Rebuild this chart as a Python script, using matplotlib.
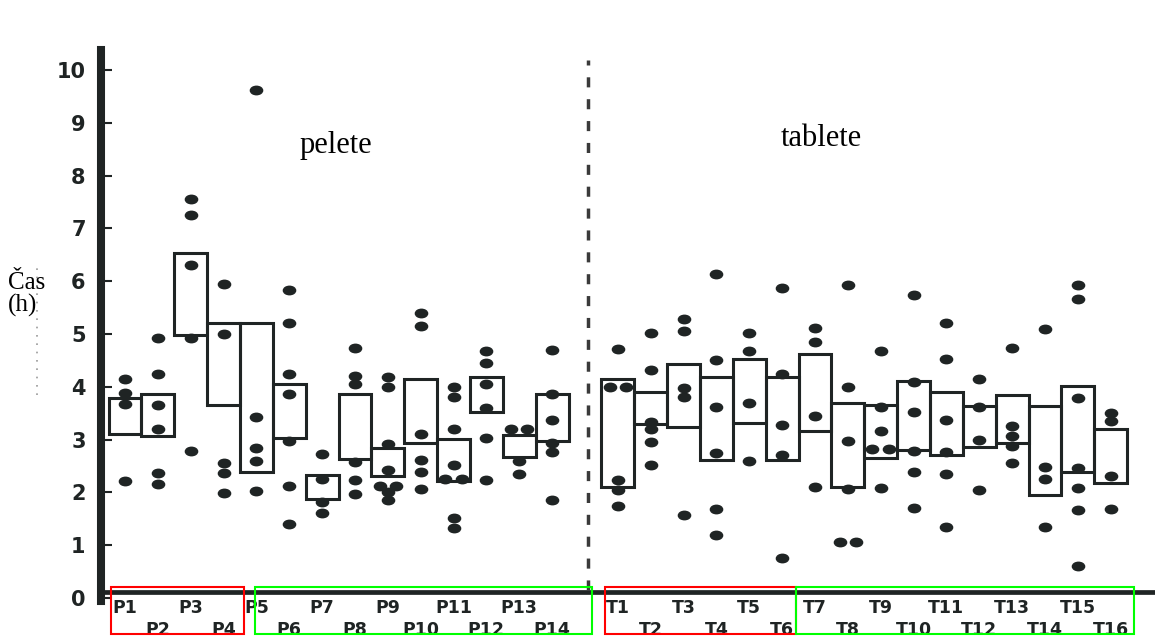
import numpy as np
import matplotlib.pyplot as plt
import matplotlib.transforms as mtransforms
from matplotlib.path import Path
from matplotlib.patches import Rectangle
from matplotlib.lines import Line2D

# --- data (hours) ---
pellet_names = ['P%d' % i for i in range(1, 15)]
tablet_names = ['T%d' % i for i in range(1, 17)]

pellet_low = [3.11, 3.06, 4.98, 3.66, 2.38, 3.03, 1.88, 2.64, 2.32, 2.94, 2.21, 3.53, 2.67, 2.98]
pellet_high = [3.79, 3.87, 6.53, 5.20, 5.20, 4.05, 2.33, 3.87, 2.84, 4.14, 3.01, 4.18, 3.09, 3.86]

tablet_low = [2.11, 3.30, 3.23, 2.62, 3.32, 2.62, 3.17, 2.11, 2.65, 2.81, 2.71, 2.86, 2.93, 1.96, 2.38, 2.18]
tablet_high = [4.15, 3.91, 4.44, 4.19, 4.52, 4.19, 4.63, 3.69, 3.66, 4.11, 3.91, 3.63, 3.85, 3.64, 4.02, 3.21]

pellet_points = [
    [4.15, 3.89, 3.68, 2.21],
    [4.93, 4.24, 3.66, 3.20, 2.36, 2.16],
    [7.55, 7.26, 6.30, 4.93, 2.79],
    [5.95, 5.00, 2.55, 2.36, 1.99],
    [9.62, 3.43, 2.85, 2.59, 2.02],
    [5.84, 5.20, 4.25, 3.86, 2.98, 2.12, 1.40],
    [2.73, 2.26, 1.82, 1.61],
    [4.74, 4.21, 4.05, 2.57, 2.24, 1.97],
    [4.18, 3.99, 2.91, 2.43, 2.13, 2.13, 2.01, 1.85],
    [5.40, 5.16, 3.11, 2.62, 2.38, 2.07],
    [4.00, 3.80, 3.20, 2.51, 2.26, 2.26, 1.52, 1.33],
    [4.67, 4.46, 4.06, 3.59, 3.03, 2.23],
    [3.20, 3.20, 2.59, 2.35],
    [4.70, 3.87, 3.37, 2.93, 2.76, 1.86],
]

tablet_points = [
    [4.72, 4.00, 4.00, 2.23, 2.05, 1.74],
    [5.02, 4.32, 3.33, 3.20, 2.95, 2.51],
    [5.28, 5.06, 3.98, 3.80, 1.58],
    [6.14, 4.50, 3.61, 2.74, 1.69, 1.19],
    [5.02, 4.67, 3.70, 2.59],
    [5.87, 4.25, 3.28, 2.70, 0.75],
    [5.11, 4.85, 3.45, 2.10],
    [5.92, 4.00, 2.97, 2.07, 1.06, 1.06],
    [4.67, 3.61, 3.17, 2.82, 2.82, 2.09],
    [5.73, 4.09, 3.53, 2.79, 2.38, 1.71],
    [5.21, 4.53, 3.37, 2.77, 2.34, 1.35],
    [4.14, 3.62, 2.99, 2.05],
    [4.73, 3.26, 3.06, 2.87, 2.55],
    [5.09, 2.49, 2.25, 1.35],
    [5.92, 5.67, 3.79, 2.47, 2.09, 1.67, 0.60],
    [3.50, 3.35, 2.32, 1.69],
]

ink = '#1f2424'

names = pellet_names + tablet_names
low = np.array(pellet_low + tablet_low)
high = np.array(pellet_high + tablet_high)
points = pellet_points + tablet_points
# pellets at 1..14, gap, tablets at 16..31
pos = np.concatenate([np.arange(1, 15), np.arange(16, 32)])

fig = plt.figure(figsize=(11.55, 6.37), dpi=100)
ax = fig.add_axes([0.0874, 0.0571, 0.9126, 0.8644])
ax.set_xlim(0.27, 32.35)
ax.set_ylim(-0.05, 10.38)

# boxes
ax.bar(pos, high - low, bottom=low, width=1.0, fill=False, edgecolor=ink, linewidth=2.2, zorder=2)

# dots, ties are put side by side
circ = Path.unit_circle()
ellipse = Path(circ.vertices * [1.45, 1.0], circ.codes)
xs, ys = [], []
for p, vals in zip(pos, points):
    vals = np.array(vals)
    for v in np.unique(vals):
        k = np.sum(vals == v)
        for off in (np.arange(k) - (k - 1) / 2.0) * 0.5:
            xs.append(p + off)
            ys.append(v)
ax.plot(xs, ys, ls='none', marker=ellipse, ms=8.8, color=ink, zorder=3)

# dashed separator
ax.vlines(15.1, 0.15, 10.19, colors='#3a3a3a', linewidth=2.5, linestyles=(0, (2.9, 3.4)))

# axes look
for s in ['top', 'right', 'bottom']:
    ax.spines[s].set_visible(False)
ax.spines['left'].set_linewidth(5.8)
ax.spines['left'].set_color(ink)
ax.axhline(0.12, color=ink, linewidth=3.4, zorder=1)
ax.set_xticks([])
ax.set_yticks(range(11))
ax.tick_params(axis='y', direction='in', length=8, width=1.5, pad=11, labelsize=15, colors=ink)
for t in ax.get_yticklabels():
    t.set_fontweight('heavy')

# group labels under the axis, two staggered rows
trans = mtransforms.blended_transform_factory(ax.transData, fig.transFigure)
for i, (p, n) in enumerate(zip(pos, names)):
    row_y = 0.0455 if i % 2 == 0 else 0.011
    ax.text(p, row_y, n, transform=trans, ha='center', va='center', fontsize=12.5,
            fontweight='bold', color=ink, clip_on=False)

# coloured frames around label groups
frames = [(0.565, 4.62, 'red'), (4.96, 15.21, '#00ff00'), (15.61, 21.43, 'red'), (21.43, 31.72, '#00ff00')]
for x0, x1, c in frames:
    ax.add_patch(Rectangle((x0, 0.0047), x1 - x0, 0.0738, transform=trans, fill=False,
                           edgecolor=c, linewidth=1.5, clip_on=False, zorder=5))

fig.text(0.2909, 0.7598, 'pelete', ha='center', va='baseline', fontsize=22, family='Liberation Serif')
fig.text(0.7108, 0.7708, 'tablete', ha='center', va='baseline', fontsize=22, family='Liberation Serif')
fig.text(0.007, 0.537, 'Čas\n(h)', ha='left', va='center', fontsize=18, family='Liberation Serif',
         linespacing=1.0)

# faint scan mark left of the axis label
fig.add_artist(Line2D([0.032, 0.032], [0.38, 0.588], transform=fig.transFigure,
                      color='#999999', linewidth=1.2, linestyle=(0, (1, 4))))

fig.savefig('out.png', dpi=100)
